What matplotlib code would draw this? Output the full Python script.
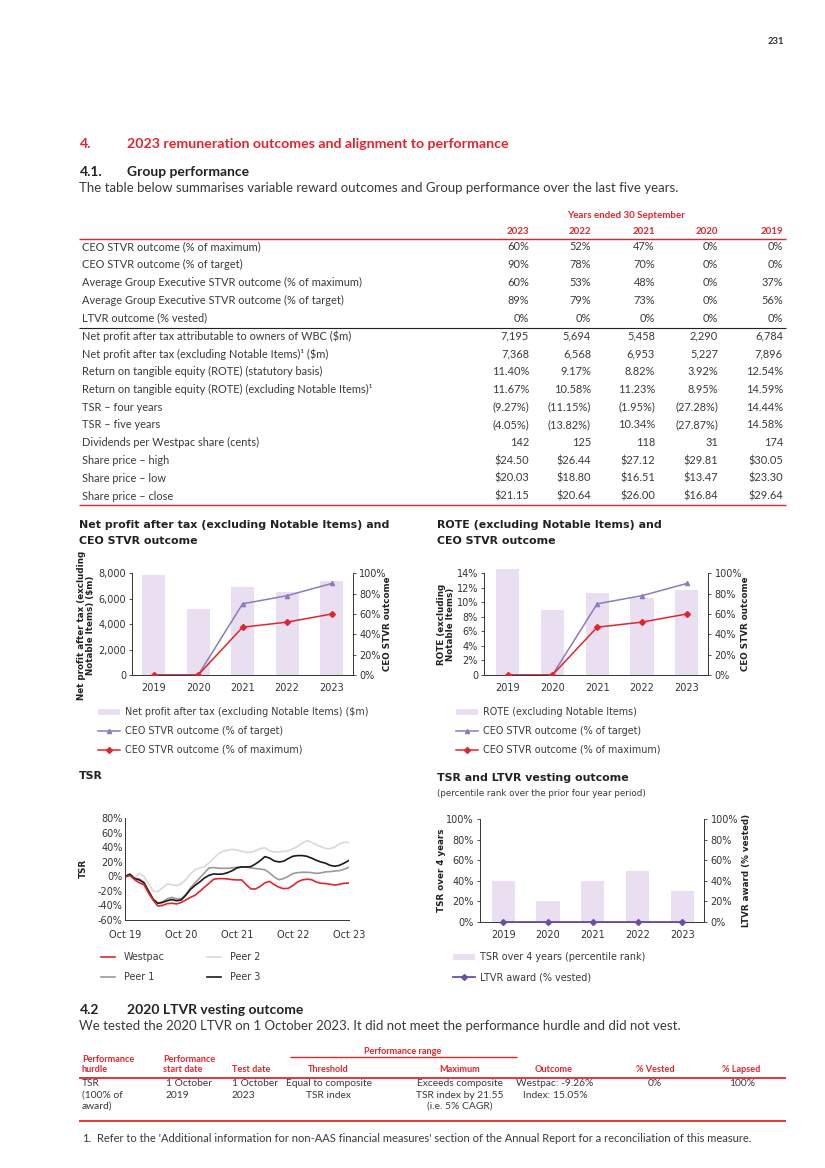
import numpy as np
import matplotlib
matplotlib.use("Agg")
import matplotlib.pyplot as plt
from matplotlib.patches import Rectangle
from matplotlib.ticker import FuncFormatter, MultipleLocator

# ------------------------------------------------------------------ data
table_years = ['2023', '2022', '2021', '2020', '2019']
table_labels = [
    'CEO STVR outcome (% of maximum)',
    'CEO STVR outcome (% of target)',
    'Average Group Executive STVR outcome (% of maximum)',
    'Average Group Executive STVR outcome (% of target)',
    'LTVR outcome (% vested)',
    'Net profit after tax attributable to owners of WBC ($m)',
    'Net profit after tax (excluding Notable Items)¹ ($m)',
    'Return on tangible equity (ROTE) (statutory basis)',
    'Return on tangible equity (ROTE) (excluding Notable Items)¹',
    'TSR – four years',
    'TSR – five years',
    'Dividends per Westpac share (cents)',
    'Share price – high',
    'Share price – low',
    'Share price – close',
]
col_2023 = ['60%', '90%', '60%', '89%', '0%', '7,195', '7,368', '11.40%', '11.67%',
            '(9.27%)', '(4.05%)', '142', '$24.50', '$20.03', '$21.15']
col_2022 = ['52%', '78%', '53%', '79%', '0%', '5,694', '6,568', '9.17%', '10.58%',
            '(11.15%)', '(13.82%)', '125', '$26.44', '$18.80', '$20.64']
col_2021 = ['47%', '70%', '48%', '73%', '0%', '5,458', '6,953', '8.82%', '11.23%',
            '(1.95%)', '10.34%', '118', '$27.12', '$16.51', '$26.00']
col_2020 = ['0%', '0%', '0%', '0%', '0%', '2,290', '5,227', '3.92%', '8.95%',
            '(27.28%)', '(27.87%)', '31', '$29.81', '$13.47', '$16.84']
col_2019 = ['0%', '0%', '37%', '56%', '0%', '6,784', '7,896', '12.54%', '14.59%',
            '14.44%', '14.58%', '174', '$30.05', '$23.30', '$29.64']

chart_years = ['2019', '2020', '2021', '2022', '2023']
npat_excl = [7896, 5227, 6953, 6568, 7368]
rote_excl = [14.59, 8.95, 11.23, 10.58, 11.67]
ceo_stvr_target = [0, 0, 70, 78, 90]
ceo_stvr_max = [0, 0, 47, 52, 60]
tsr_rank = [40, 20, 40, 50, 30]
ltvr_vested = [0, 0, 0, 0, 0]

tsr_ticks = ['Oct 19', 'Oct 20', 'Oct 21', 'Oct 22', 'Oct 23']
tsr_westpac = [-1, 1, -4.6, -9, -11.5, -23, -33, -40.8, -40, -37.6, -37, -38, -36,
               -32.6, -29, -26, -20.6, -15, -9.6, -4, -3.2, -3.2, -3.7, -4.6, -5,
               -5, -11.5, -17.4, -17.4, -13.8, -9, -7, -11.5, -15, -17, -16.5,
               -12.8, -7.8, -5, -4, -4.6, -7.8, -9.6, -10, -11, -12, -11, -9.6, -9.3]
tsr_peer1 = [0, 2, -3, -3.7, -7.8, -20, -31, -37, -35, -31, -29, -31, -31,
             -25, -16, -9, -2.3, 4.6, 11.5, 12, 11, 11, 11, 11.5, 12.4,
             12.8, 12.4, 11.5, 10.6, 10, 9, 4.6, -1, -4.6, -3.2, 0,
             3.7, 5, 5.5, 5.5, 5, 4, 4.6, 6, 6.4, 7.3, 7.8, 9.6, 12.4]
tsr_peer2 = [0, 2, -3, 4, 0, -10.5, -20.6, -21, -16, -10.5, -11.5, -12.8, -10.5,
             -4.6, 3.2, 9, 11.5, 13.3, 18.3, 25, 30.7, 34.4, 36, 37, 36,
             34.4, 33, 33, 35, 38, 39, 35, 33.5, 33.5, 34, 35,
             37.6, 40.8, 45.4, 49, 46.8, 43.6, 40.8, 38, 38, 40, 44.5, 46.8, 46.3]
tsr_peer3 = [0, 3, -3, -5, -9, -20.6, -32, -37, -36, -33.5, -32, -33.5, -32.6,
             -26, -18, -12.4, -7.8, -2.3, 1.4, 3.2, 2.8, 3.2, 5, 7.8, 11.5,
             12.8, 12.8, 13.3, 17, 21.5, 27, 25, 21, 19.7, 20.6, 24.3,
             27.5, 28.4, 28.4, 27.5, 25, 22, 19.7, 18, 15, 13.8, 15, 18, 21.5]

ltvr_head = ['Performance\nhurdle', 'Performance\nstart date', 'Test date', 'Threshold',
             'Maximum', 'Outcome', '% Vested', '% Lapsed']
ltvr_row = ['TSR\n(100% of\naward)', '1 October\n2019', '1 October\n2023',
            'Equal to composite\nTSR index', 'Exceeds composite\nTSR index by 21.55\n(i.e. 5% CAGR)',
            'Westpac: -9.26%\nIndex: 15.05%', '0%', '100%']

# ------------------------------------------------------------------ style
W, H = 825, 1168
RED = '#e0262d'
TXT = '#3a3a3a'
BAR = '#eadff0'
PURPLE = '#8c7bbd'
DPURPLE = '#6a4fa3'
PF = ['Lato', 'DejaVu Sans']
CF = ['DejaVu Sans']

fig = plt.figure(figsize=(W / 100, H / 100), dpi=100)
ov = fig.add_axes([0, 0, 1, 1])
ov.set_xlim(0, W)
ov.set_ylim(H, 0)
ov.axis('off')


def T(x, y, s, size=7.5, color=TXT, weight='normal', ha='left', va='center', fam=PF, **kw):
    ov.text(x, y, s, fontsize=size, color=color, fontweight=weight, ha=ha, va=va,
            family=fam, **kw)


def L(x1, x2, y, color=RED, lw=1.0):
    ov.plot([x1, x2], [y, y], color=color, lw=lw, solid_capstyle='butt')


def px_axes(l, t, r, b):
    return fig.add_axes([l / W, 1 - b / H, (r - l) / W, (b - t) / H])


# page number & headings
T(776, 42, '231', size=6.8, color='#333333', weight='bold', ha='center')
T(80, 144, '4.', size=10.2, color=RED, weight='bold')
T(127, 144, '2023 remuneration outcomes and alignment to performance', size=10.2, color=RED, weight='bold')
T(80, 172, '4.1.', size=10, color='#222222', weight='bold')
T(127, 172, 'Group performance', size=10, color='#222222', weight='bold')
T(79, 188, 'The table below summarises variable reward outcomes and Group performance over the last five years.',
  size=9.5)

# ------------------------------------------------------------------ top table
col_right = [529, 591, 655, 718, 783]
cols = [col_2023, col_2022, col_2021, col_2020, col_2019]
T(626, 216, 'Years ended 30 September', size=7, color=RED, weight='bold', ha='center')
for xr, yr in zip(col_right, table_years):
    T(xr, 231, yr, size=7, color=RED, weight='bold', ha='right')
L(79, 786, 238.5, RED, 1.0)
row_y0, row_dy = 247, 17.8
for i, lab in enumerate(table_labels):
    y = row_y0 + i * row_dy
    T(82, y, lab, size=7.9)
    for xr, col in zip(col_right, cols):
        T(xr, y, col[i], size=7.9, ha='right')
L(79, 786, 327.5, '#222222', 0.8)
L(79, 786, 505, RED, 1.0)

# ------------------------------------------------------------------ chart helpers
def style_axis(ax, left=True, right=False, bottom=True):
    ax.spines['top'].set_visible(False)
    ax.spines['left'].set_visible(left)
    ax.spines['right'].set_visible(right)
    ax.spines['bottom'].set_visible(bottom)
    for sp in ['left', 'right', 'bottom']:
        ax.spines[sp].set_color('#333333')
        ax.spines[sp].set_linewidth(0.7)
    ax.tick_params(labelsize=7, colors='#333333', length=2.5, width=0.6, pad=2)
    for lab in ax.get_xticklabels() + ax.get_yticklabels():
        lab.set_family(CF)


pct = FuncFormatter(lambda v, p: f'{v:.0f}%')
x5 = np.arange(len(chart_years))
TS = 7.95
LS = 6.9

# Chart 1: NPAT
T(79, 525, 'Net profit after tax (excluding Notable Items) and', size=TS, color='#222222', weight='bold', fam=CF)
T(79, 541, 'CEO STVR outcome', size=TS, color='#222222', weight='bold', fam=CF)
a1 = px_axes(132.3, 573.3, 353, 675)
a1.bar(x5, npat_excl, width=0.52, color=BAR, zorder=1)
a1.set_xlim(-0.48, 4.48)
a1.set_ylim(0, 8000)
a1.yaxis.set_major_locator(MultipleLocator(2000))
a1.yaxis.set_major_formatter(FuncFormatter(lambda v, p: f'{v:,.0f}'))
a1.set_xticks(x5, chart_years)
a1r = a1.twinx()
a1r.plot(x5, ceo_stvr_target, color=PURPLE, lw=1.1, marker='^', ms=3, zorder=3)
a1r.plot(x5, ceo_stvr_max, color=RED, lw=1.1, marker='D', ms=3, zorder=4)
a1r.set_ylim(0, 100)
a1r.yaxis.set_major_locator(MultipleLocator(20))
a1r.yaxis.set_major_formatter(pct)
style_axis(a1, True, False, True)
style_axis(a1r, False, True, False)
a1.tick_params(axis='x', length=0, pad=6)
T(86, 625, 'Net profit after tax (excluding\nNotable Items) ($m)', size=6.3, color='#222222', weight='bold',
  ha='center', rotation=90, fam=CF, linespacing=1.1)
T(388, 624, 'CEO STVR outcome', size=6.3, color='#222222', weight='bold', ha='center', rotation=90, fam=CF)

# Chart 2: ROTE
T(437, 525, 'ROTE (excluding Notable Items) and', size=TS, color='#222222', weight='bold', fam=CF)
T(437, 541, 'CEO STVR outcome', size=TS, color='#222222', weight='bold', fam=CF)
a2 = px_axes(484.3, 573.3, 708.3, 675)
a2.bar(x5, rote_excl, width=0.52, color=BAR, zorder=1, clip_on=False)
a2.set_xlim(-0.52, 4.48)
a2.set_ylim(0, 14)
a2.yaxis.set_major_locator(MultipleLocator(2))
a2.yaxis.set_major_formatter(FuncFormatter(lambda v, p: '0' if v == 0 else f'{v:.0f}%'))
a2.set_xticks(x5, chart_years)
a2r = a2.twinx()
a2r.plot(x5, ceo_stvr_target, color=PURPLE, lw=1.1, marker='^', ms=3, zorder=3)
a2r.plot(x5, ceo_stvr_max, color=RED, lw=1.1, marker='D', ms=3, zorder=4)
a2r.set_ylim(0, 100)
a2r.yaxis.set_major_locator(MultipleLocator(20))
a2r.yaxis.set_major_formatter(pct)
style_axis(a2, True, False, True)
style_axis(a2r, False, True, False)
a2.tick_params(axis='x', length=0, pad=6)
T(446, 624, 'ROTE (excluding\nNotable Items)', size=6.3, color='#222222', weight='bold',
  ha='center', rotation=90, fam=CF, linespacing=1.1)
T(746, 624, 'CEO STVR outcome', size=6.3, color='#222222', weight='bold', ha='center', rotation=90, fam=CF)

# legends for chart 1 & 2
for lx, lab0 in [(98, 'Net profit after tax (excluding Notable Items) ($m)'),
                 (456, 'ROTE (excluding Notable Items)')]:
    ov.add_patch(Rectangle((lx, 709), 22, 6, color=BAR, lw=0))
    T(lx + 27, 712, lab0, size=LS, fam=CF)
    ov.plot([lx, lx + 22], [731, 731], color=PURPLE, lw=1.1)
    ov.plot([lx + 11], [731], color=PURPLE, marker='^', ms=3)
    T(lx + 27, 731, 'CEO STVR outcome (% of target)', size=LS, fam=CF)
    ov.plot([lx, lx + 22], [750, 750], color=RED, lw=1.1)
    ov.plot([lx + 11], [750], color=RED, marker='D', ms=3)
    T(lx + 27, 750, 'CEO STVR outcome (% of maximum)', size=LS, fam=CF)

# Chart 3: TSR
T(79, 776, 'TSR', size=TS, color='#222222', weight='bold', fam=CF)
a3 = px_axes(125.3, 818, 348.7, 920)
months = np.arange(len(tsr_westpac))
a3.plot(months, tsr_peer2, color='#d9d9d9', lw=1.2)
a3.plot(months, tsr_peer1, color='#9a9a9a', lw=1.2)
a3.plot(months, tsr_peer3, color='#1a1a1a', lw=1.2)
a3.plot(months, tsr_westpac, color=RED, lw=1.2)
a3.set_xlim(0, 48)
a3.set_ylim(-60, 80)
a3.yaxis.set_major_locator(MultipleLocator(20))
a3.yaxis.set_major_formatter(pct)
a3.set_xticks([0, 12, 24, 36, 48], tsr_ticks)
style_axis(a3, True, False, True)
a3.tick_params(axis='both', length=0)
a3.tick_params(axis='x', pad=7)
T(83, 868, 'TSR', size=6.3, color='#222222', weight='bold', ha='center', rotation=90, fam=CF)
for (lx, ly, c, lab) in [(101, 957, RED, 'Westpac'), (207, 957, '#d9d9d9', 'Peer 2'),
                         (101, 977, '#9a9a9a', 'Peer 1'), (207, 977, '#1a1a1a', 'Peer 3')]:
    ov.plot([lx, lx + 14], [ly, ly], color=c, lw=1.2)
    T(lx + 23, ly, lab, size=LS, fam=CF)

# Chart 4: TSR & LTVR
T(437, 778, 'TSR and LTVR vesting outcome', size=TS, color='#222222', weight='bold', fam=CF)
T(437, 794, '(percentile rank over the prior four year period)', size=6.3, fam=CF)
a4 = px_axes(480, 819.3, 704.3, 921.7)
a4.bar(x5, tsr_rank, width=0.52, color=BAR, zorder=1)
a4.set_xlim(-0.52, 4.49)
a4.set_ylim(0, 100)
a4.yaxis.set_major_locator(MultipleLocator(20))
a4.yaxis.set_major_formatter(pct)
a4.set_xticks(x5, chart_years)
a4r = a4.twinx()
a4r.plot(x5, ltvr_vested, color=DPURPLE, lw=1.3, marker='D', ms=3, clip_on=False, zorder=5)
a4r.set_ylim(0, 100)
a4r.yaxis.set_major_locator(MultipleLocator(20))
a4r.yaxis.set_major_formatter(pct)
style_axis(a4, True, False, True)
style_axis(a4r, False, True, False)
a4.tick_params(axis='x', length=0, pad=6)
T(441, 870, 'TSR over 4 years', size=6.3, color='#222222', weight='bold', ha='center', rotation=90, fam=CF)
T(746, 870, 'LTVR award (% vested)', size=6.3, color='#222222', weight='bold', ha='center', rotation=90, fam=CF)
ov.add_patch(Rectangle((453, 954), 22, 6, color=BAR, lw=0))
T(480, 957, 'TSR over 4 years (percentile rank)', size=LS, fam=CF)
ov.plot([453, 475], [977, 977], color=DPURPLE, lw=1.3)
ov.plot([464], [977], color=DPURPLE, marker='D', ms=3)
T(480, 977, 'LTVR award (% vested)', size=LS, fam=CF)

# ------------------------------------------------------------------ section 4.2
T(80, 1010, '4.2', size=10, color='#222222', weight='bold')
T(127, 1010, '2020 LTVR vesting outcome', size=10, color='#222222', weight='bold')
T(79, 1026, 'We tested the 2020 LTVR on 1 October 2023. It did not meet the performance hurdle and did not vest.',
  size=9.5)
T(403, 1051, 'Performance range', size=6.6, color=RED, weight='bold', ha='center')
L(290, 517, 1057, RED, 1.0)
head_x = [82, 163, 232, 328, 460, 554, 655, 741]
head_ha = ['left', 'left', 'left', 'center', 'center', 'center', 'center', 'center']
for hx, ha, h in zip(head_x, head_ha, ltvr_head):
    T(hx, 1074, h, size=6.6, color=RED, weight='bold', ha=ha, va='bottom', linespacing=1.2)
L(79, 786, 1077.5, RED, 1.3)
row_x = [82, 166, 232, 329, 460, 555, 655, 742]
for rx, ha, s in zip(row_x, head_ha, ltvr_row):
    T(rx, 1079.5, s, size=7.4, ha=ha, va='top', multialignment='center' if ha == 'center' else 'left',
      linespacing=1.3)
L(79, 786, 1120.5, RED, 1.3)
T(82, 1138, '1.', size=8)
T(97, 1138, "Refer to the 'Additional information for non-AAS financial measures' section of the Annual Report for a "
  "reconciliation of this measure.", size=8)

fig.savefig('out.png', dpi=100)
